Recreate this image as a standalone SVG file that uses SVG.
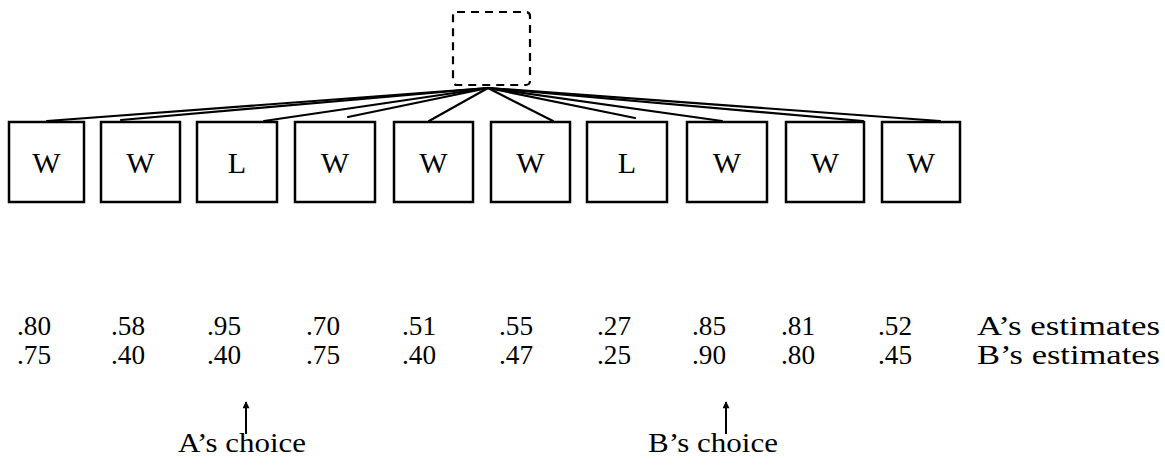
<svg xmlns="http://www.w3.org/2000/svg" width="1165" height="470" viewBox="0 0 1165 470">
<style>
.bg{fill:#fff}
.box rect{fill:#fff;stroke:#000;stroke-width:2.5}
.box text{font-family:"Liberation Serif",serif;font-size:30px;text-anchor:middle;fill:#000}
.conn line{stroke:#000;stroke-width:2.2;stroke-linecap:round}
.num{font-family:"Liberation Serif",serif;font-size:27px;fill:#000}
.lbl{font-family:"Liberation Serif",serif;font-size:27px;fill:#000}
.arr{stroke:#000;stroke-width:2;fill:none}
</style>
<defs>
<marker id="ah" viewBox="0 0 10 10" refX="9" refY="5" markerWidth="10" markerHeight="7" orient="auto" markerUnits="userSpaceOnUse">
<path d="M0,0 L10,5 L0,10 z" fill="#000"/>
</marker>
</defs>
<rect class="bg" x="0" y="0" width="1165" height="470"/>
<g id="root">
<rect x="453" y="12" width="77" height="73" rx="4" fill="none" stroke="#000" stroke-width="2.2" stroke-dasharray="8,6"/>
</g>
<g id="connectors" class="conn">
<line x1="488" y1="88" x2="47" y2="121"/>
<line x1="488" y1="88" x2="121" y2="120"/>
<line x1="488" y1="88" x2="264" y2="121"/>
<line x1="488" y1="88" x2="348" y2="117"/>
<line x1="488" y1="88" x2="429" y2="121"/>
<line x1="488" y1="88" x2="553" y2="121"/>
<line x1="488" y1="88" x2="635" y2="118"/>
<line x1="488" y1="88" x2="722" y2="121"/>
<line x1="488" y1="88" x2="863" y2="121"/>
<line x1="488" y1="88" x2="940" y2="121"/>
</g>
<g id="n1" class="box"><rect x="9" y="122" width="75" height="80"/><text x="46.5" y="173">W</text></g>
<g id="n2" class="box"><rect x="101" y="122" width="79" height="80"/><text x="140.5" y="173">W</text></g>
<g id="n3" class="box"><rect x="197" y="122" width="80" height="80"/><text x="237" y="173">L</text></g>
<g id="n4" class="box"><rect x="295" y="122" width="80" height="80"/><text x="335" y="173">W</text></g>
<g id="n5" class="box"><rect x="394" y="122" width="79" height="80"/><text x="433.5" y="173">W</text></g>
<g id="n6" class="box"><rect x="491" y="122" width="79" height="80"/><text x="530.5" y="173">W</text></g>
<g id="n7" class="box"><rect x="587" y="122" width="80" height="80"/><text x="627" y="173">L</text></g>
<g id="n8" class="box"><rect x="687" y="122" width="80" height="80"/><text x="727" y="173">W</text></g>
<g id="n9" class="box"><rect x="786" y="122" width="78" height="80"/><text x="825" y="173">W</text></g>
<g id="n10" class="box"><rect x="882" y="122" width="78" height="80"/><text x="921" y="173">W</text></g>
<g id="estimatesA" class="num">
<text x="17" y="335" textLength="34" lengthAdjust="spacingAndGlyphs">.80</text><text x="111" y="335" textLength="34" lengthAdjust="spacingAndGlyphs">.58</text><text x="207" y="335" textLength="34" lengthAdjust="spacingAndGlyphs">.95</text><text x="306" y="335" textLength="34" lengthAdjust="spacingAndGlyphs">.70</text><text x="402" y="335" textLength="34" lengthAdjust="spacingAndGlyphs">.51</text><text x="499" y="335" textLength="34" lengthAdjust="spacingAndGlyphs">.55</text><text x="597" y="335" textLength="34" lengthAdjust="spacingAndGlyphs">.27</text><text x="692" y="335" textLength="34" lengthAdjust="spacingAndGlyphs">.85</text><text x="781" y="335" textLength="34" lengthAdjust="spacingAndGlyphs">.81</text><text x="878" y="335" textLength="34" lengthAdjust="spacingAndGlyphs">.52</text>
<text class="lbl" x="977" y="335" textLength="183" lengthAdjust="spacingAndGlyphs">A’s estimates</text>
</g>
<g id="estimatesB" class="num">
<text x="17" y="364" textLength="34" lengthAdjust="spacingAndGlyphs">.75</text><text x="111" y="364" textLength="34" lengthAdjust="spacingAndGlyphs">.40</text><text x="207" y="364" textLength="34" lengthAdjust="spacingAndGlyphs">.40</text><text x="306" y="364" textLength="34" lengthAdjust="spacingAndGlyphs">.75</text><text x="402" y="364" textLength="34" lengthAdjust="spacingAndGlyphs">.40</text><text x="499" y="364" textLength="34" lengthAdjust="spacingAndGlyphs">.47</text><text x="597" y="364" textLength="34" lengthAdjust="spacingAndGlyphs">.25</text><text x="692" y="364" textLength="34" lengthAdjust="spacingAndGlyphs">.90</text><text x="781" y="364" textLength="34" lengthAdjust="spacingAndGlyphs">.80</text><text x="878" y="364" textLength="34" lengthAdjust="spacingAndGlyphs">.45</text>
<text class="lbl" x="977" y="364" textLength="183" lengthAdjust="spacingAndGlyphs">B’s estimates</text>
</g>
<g id="choiceA">
<line class="arr" x1="246" y1="434" x2="246" y2="402" marker-end="url(#ah)"/>
<text class="lbl" x="178" y="452" textLength="128" lengthAdjust="spacingAndGlyphs">A’s choice</text>
</g>
<g id="choiceB">
<line class="arr" x1="726" y1="434" x2="726" y2="402" marker-end="url(#ah)"/>
<text class="lbl" x="648" y="452" textLength="130" lengthAdjust="spacingAndGlyphs">B’s choice</text>
</g>
</svg>
